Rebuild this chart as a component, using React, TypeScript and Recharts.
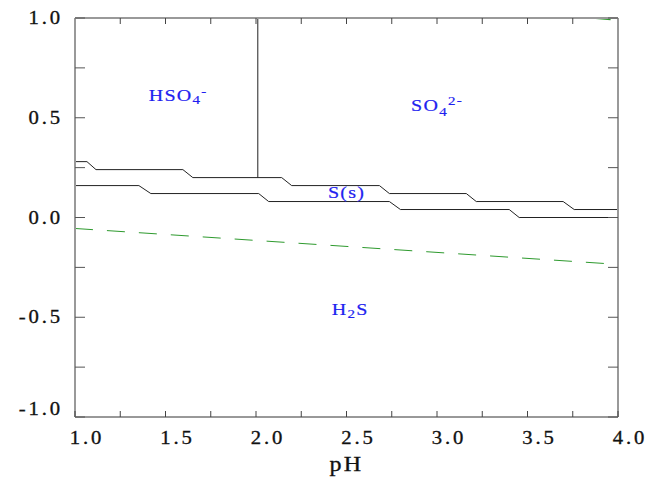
import React from 'react';
import { LineChart, Line, XAxis, YAxis, ReferenceDot } from 'recharts';

// axis ticks
const phTicks = [1, 1.25, 1.5, 1.75, 2, 2.25, 2.5, 2.75, 3, 3.25, 3.5, 3.75, 4];
const eTicks = [-1, -0.75, -0.5, -0.25, 0, 0.25, 0.5, 0.75, 1];

// HSO4- / SO4 2- | S(s) boundary
const upperPh = [1.0, 1.066, 1.116, 1.596, 1.651, 2.142, 2.197, 2.682, 2.737, 3.162, 3.217, 3.697, 3.758, 4.0];
const upperE = [0.28, 0.28, 0.24, 0.24, 0.2, 0.2, 0.16, 0.16, 0.12, 0.12, 0.08, 0.08, 0.04, 0.04];

// S(s) | H2S boundary
const lowerPh = [1.0, 1.353, 1.419, 2.015, 2.07, 2.737, 2.798, 3.399, 3.454, 4.0];
const lowerE = [0.16, 0.16, 0.12, 0.12, 0.08, 0.08, 0.04, 0.04, 0.0, 0.0];

// HSO4- | SO4 2- boundary
const acidPh = [2.01, 2.01];
const acidE = [0.2, 1.0];

// water stability lines
const h2Ph = [1.0, 4.0];
const h2E = [-0.055, -0.235];
const o2Ph = [3.86, 4.0];
const o2E = [1.0, 0.99];

// species labels
const speciesNames = ['HSO4-', 'SO42-', 'S(s)', 'H2S'];
const speciesPh = [1.57, 3.0, 2.5, 2.52];
const speciesE = [0.61, 0.56, 0.125, -0.465];

const toPoints = (xs: number[], ys: number[]) => xs.map((ph, i) => ({ ph, e: ys[i] }));

const upper = toPoints(upperPh, upperE);
const lower = toPoints(lowerPh, lowerE);
const acid = toPoints(acidPh, acidE);
const h2 = toPoints(h2Ph, h2E);
const o2 = toPoints(o2Ph, o2E);

const serif = '"Liberation Serif", "Times New Roman", serif';
const ink = '#111';
const blue = '#1f1ff0';

const isMajor = (v: number) => Math.abs(v * 2 - Math.round(v * 2)) < 1e-6;

const tickText = {
  fontFamily: serif,
  fontSize: 18,
  letterSpacing: 2.5,
  fill: ink,
  stroke: ink,
  strokeWidth: 0.3,
};

const XTick = (props: any) => {
  const { x, y, payload } = props;
  const v = payload.value;
  return (
    <g>
      <line x1={x} y1={y} x2={x} y2={y - 6} stroke="#444" />
      {isMajor(v) && (
        <text transform={`translate(${x + 12},${y + 27}) scale(1.15,1)`} textAnchor="middle" {...tickText}>
          {v.toFixed(1)}
        </text>
      )}
    </g>
  );
};

const YTick = (props: any) => {
  const { x, y, payload } = props;
  const v = payload.value;
  const lift = v === -1 ? -8 : 0;
  return (
    <g>
      <line x1={x} y1={y} x2={x + 10} y2={y} stroke="#555" />
      {isMajor(v) && (
        <text transform={`translate(${x - 12},${y + 6 + lift}) scale(1.15,1)`} textAnchor="end" {...tickText}>
          {v.toFixed(1)}
        </text>
      )}
    </g>
  );
};

const NoLabel = () => <g />;

const SpeciesText = ({ cx, cy, name }: any) => {
  let body: React.ReactNode = name;
  if (name === 'HSO4-') {
    body = (
      <>
        HSO<tspan fontSize={12} dy={3}>4</tspan>
        <tspan fontSize={12} dy={-8}>-</tspan>
      </>
    );
  } else if (name === 'SO42-') {
    body = (
      <>
        SO<tspan fontSize={12} dy={5}>4</tspan>
        <tspan fontSize={12} dy={-11}>2-</tspan>
      </>
    );
  } else if (name === 'H2S') {
    body = (
      <>
        H<tspan fontSize={12} dy={3}>2</tspan>
        <tspan dy={-3}>S</tspan>
      </>
    );
  }
  return (
    <text
      transform={`translate(${cx},${cy + 5}) scale(1.25,1)`}
      textAnchor="middle"
      fontFamily={serif}
      fontSize={16}
      letterSpacing={1}
      fill={blue}
      stroke={blue}
      strokeWidth={0.2}
    >
      {body}
    </text>
  );
};

const PhLabel = (props: any) => {
  const { viewBox } = props;
  return (
    <text
      transform={`translate(${viewBox.x + viewBox.width / 2},${viewBox.y + 54}) scale(1.2,1)`}
      textAnchor="middle"
      fontFamily={serif}
      fontSize={20}
      letterSpacing={2}
      fill={ink}
      stroke={ink}
      strokeWidth={0.3}
    >
      pH
    </text>
  );
};

export default function App() {
  return (
    <div style={{ position: 'absolute', left: 0, top: 0, background: '#fff' }}>
      <LineChart width={650} height={480} margin={{ top: 18, right: 32, bottom: 0, left: 0 }}>
        <XAxis
          dataKey="ph"
          type="number"
          domain={[1, 4]}
          ticks={phTicks}
          allowDataOverflow
          height={63}
          axisLine={{ stroke: '#333', strokeWidth: 1 }}
          tickLine={false}
          tickSize={0}
          tickMargin={0}
          tick={<XTick />}
          interval={0}
          label={<PhLabel />}
        />
        <XAxis
          xAxisId="top"
          dataKey="ph"
          orientation="top"
          type="number"
          domain={[1, 4]}
          ticks={phTicks}
          allowDataOverflow
          height={20}
          mirror
          tickSize={6}
          tickLine={{ stroke: '#444' }}
          tick={NoLabel}
          axisLine={{ stroke: '#999', strokeWidth: 2 }}
          interval={0}
        />
        <YAxis
          type="number"
          domain={[-1, 1]}
          ticks={eTicks}
          allowDataOverflow
          width={75}
          axisLine={{ stroke: '#999', strokeWidth: 2 }}
          tickLine={false}
          tickSize={0}
          tickMargin={0}
          tick={<YTick />}
          interval={0}
        />
        <YAxis
          yAxisId="right"
          orientation="right"
          type="number"
          domain={[-1, 1]}
          ticks={eTicks}
          allowDataOverflow
          width={20}
          mirror
          tickSize={10}
          tickLine={{ stroke: '#555' }}
          tick={NoLabel}
          axisLine={{ stroke: '#999', strokeWidth: 2 }}
          interval={0}
        />
        <Line data={h2} dataKey="e" type="linear" stroke="#2e9a2e" strokeDasharray="18 14" dot={false} isAnimationActive={false} />
        <Line data={o2} dataKey="e" type="linear" stroke="#2e9a2e" strokeWidth={1.5} strokeDasharray="18 14" dot={false} isAnimationActive={false} />
        <Line data={upper} dataKey="e" type="linear" stroke="#222" strokeWidth={1} dot={false} isAnimationActive={false} />
        <Line data={lower} yAxisId="right" dataKey="e" type="linear" stroke="#222" strokeWidth={1} dot={false} isAnimationActive={false} />
        <Line data={acid} xAxisId="top" dataKey="e" type="linear" stroke="#222" strokeWidth={1} dot={false} isAnimationActive={false} />
        {speciesNames.map((name, i) => (
          <ReferenceDot
            key={name}
            x={speciesPh[i]}
            y={speciesE[i]}
            r={0}
            shape={(p: any) => <SpeciesText {...p} name={name} />}
          />
        ))}
      </LineChart>
    </div>
  );
}
